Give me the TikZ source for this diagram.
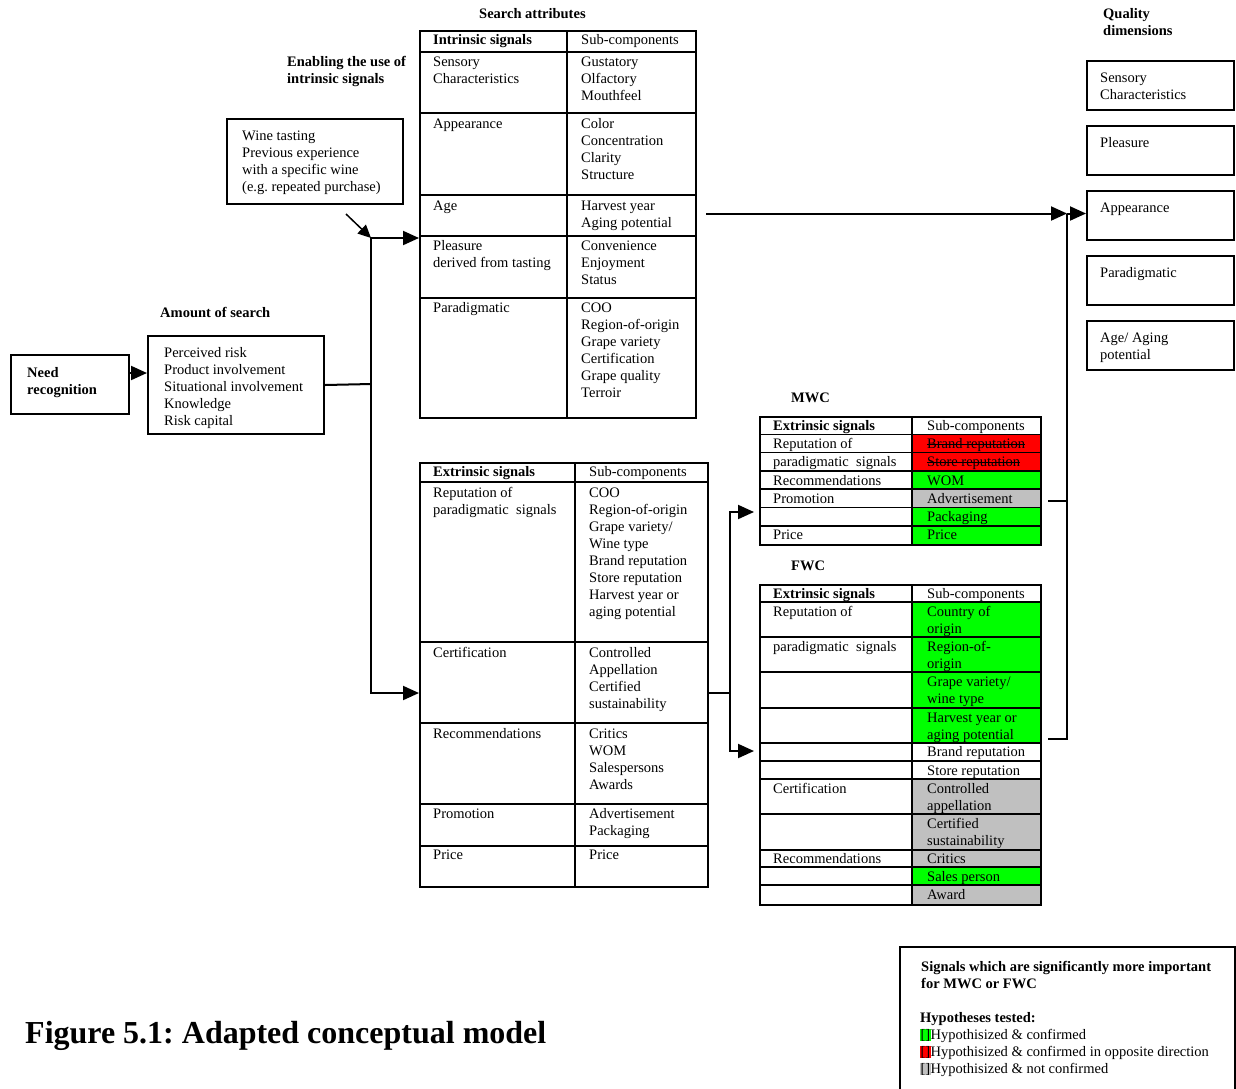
\documentclass[tikz,border=0pt]{standalone}
\usepackage{fontspec}
\setmainfont{Liberation Serif}
\usetikzlibrary{arrows.meta}
\frenchspacing

\newcommand\fnt{\fontsize{14.5}{17}\selectfont}
\definecolor{okgreen}{RGB}{0,255,0}
\definecolor{oppred}{RGB}{255,0,0}
\definecolor{notgray}{RGB}{192,192,192}

% text block whose first line is centred at (x,y)
\newcommand\cell[4]{\node[txt] (#1) at (#2,#3-7) {\strut #4};}
% strike a line through a one-line text node
\newcommand\strikeout[1]{\draw[line width=0.8pt] (#1.west) -- (#1.east);}
% coloured marker used in the legend
\newcommand\mk[1]{{\fboxsep=0.4pt\colorbox{#1}{[]}}}

\tikzset{
  txt/.style={anchor=north west, inner sep=0pt, align=left, font=\fnt},
  hd/.style={txt, font=\fnt\bfseries},
  box/.style={draw, line width=2pt, anchor=north west, inner sep=0pt},
  tbl/.style={draw, line width=1.6pt, anchor=north west, inner sep=0pt},
  rule/.style={line width=1.6pt},
  link/.style={line width=2pt},
  arr/.style={link, -{Triangle[length=16pt,width=14pt]}},
  thinarr/.style={line width=1.5pt, -{Triangle[length=13pt,width=12pt]}},
}

\begin{document}
\begin{tikzpicture}[x=1pt,y=-1pt]
\useasboundingbox (0,0) rectangle (1236,1088);
\clip (0,0) rectangle (1236,1088);

% ---------- headings ----------
\node[hd] (hSearch) at (479,13-7) {\strut Search attributes};
\node[hd] (hEnable) at (287,61-7) {\strut Enabling the use of\\intrinsic signals};
\node[hd] (hQual) at (1103,13-7) {\strut Quality\\dimensions};
\node[hd] (hAmount) at (160,312-7) {\strut Amount of search};
\node[hd] (hMWC) at (791,397-7) {\strut MWC};
\node[hd] (hFWC) at (791,565-7) {\strut FWC};

% ---------- left boxes ----------
\node[box, minimum width=118pt, minimum height=59pt] (need) at (10,354) {};
\node[hd] (needTxt) at (27,372-7) {\strut Need\\recognition};
\node[box, minimum width=176pt, minimum height=98pt] (amount) at (147,335) {};
\cell{amountTxt}{164}{352}{Perceived risk\\Product involvement\\Situational involvement\\Knowledge\\Risk capital}
\node[box, minimum width=176pt, minimum height=85pt] (wine) at (226,118) {};
\cell{wineTxt}{242}{135}{Wine tasting\\Previous experience\\with a specific wine\\(e.g. repeated purchase)}

% ---------- intrinsic signals table ----------
\node[tbl, minimum width=276pt, minimum height=387pt] (intr) at (419,30) {};
\draw[rule] (567,30) -- (567,417);
\foreach \yy in {52,113,195,236,298} \draw[rule] (419,\yy) -- (695,\yy);
\cell{iH1}{433}{39}{\textbf{Intrinsic signals}}
\cell{iH2}{581}{39}{Sub-components}
\cell{iL1}{433}{61}{Sensory\\Characteristics}
\cell{iR1}{581}{61}{Gustatory\\Olfactory\\Mouthfeel}
\cell{iL2}{433}{123}{Appearance}
\cell{iR2}{581}{123}{Color\\Concentration\\Clarity\\Structure}
\cell{iL3}{433}{205}{Age}
\cell{iR3}{581}{205}{Harvest year\\Aging potential}
\cell{iL4}{433}{245}{Pleasure\\derived from tasting}
\cell{iR4}{581}{245}{Convenience\\Enjoyment\\Status}
\cell{iL5}{433}{307}{Paradigmatic}
\cell{iR5}{581}{307}{COO\\Region-of-origin\\Grape variety\\Certification\\Grape quality\\Terroir}

% ---------- extrinsic signals table ----------
\node[tbl, minimum width=288pt, minimum height=424pt] (extr) at (419,462) {};
\draw[rule] (575,462) -- (575,886);
\foreach \yy in {482,642,723,804,846} \draw[rule] (419,\yy) -- (707,\yy);
\cell{eH1}{433}{471}{\textbf{Extrinsic signals}}
\cell{eH2}{589}{471}{Sub-components}
\cell{eL1}{433}{492}{Reputation of\\paradigmatic~ signals}
\cell{eR1}{589}{492}{COO\\Region-of-origin\\Grape variety/\\Wine type\\Brand reputation\\Store reputation\\Harvest year or\\aging potential}
\cell{eL2}{433}{652}{Certification}
\cell{eR2}{589}{652}{Controlled\\Appellation\\Certified\\sustainability}
\cell{eL3}{433}{733}{Recommendations}
\cell{eR3}{589}{733}{Critics\\WOM\\Salespersons\\Awards}
\cell{eL4}{433}{813}{Promotion}
\cell{eR4}{589}{813}{Advertisement\\Packaging}
\cell{eL5}{433}{854}{Price}
\cell{eR5}{589}{854}{Price}

% ---------- MWC table ----------
\fill[oppred] (912,434.3) rectangle (1040,470.9);
\fill[okgreen] (912,470.9) rectangle (1040,489.1);
\fill[notgray] (912,489.1) rectangle (1040,507.4);
\fill[okgreen] (912,507.4) rectangle (1040,544);
\node[tbl, minimum width=281pt, minimum height=128pt] (mwc) at (759,416) {};
\draw[rule] (912,416) -- (912,544);
\foreach \yy in {434.3,452.6,470.9,489.1,507.4,525.7} \draw[rule] (759,\yy) -- (1040,\yy);
\cell{mH1}{773}{425}{\textbf{Extrinsic signals}}
\cell{mH2}{927}{425}{Sub-components}
\cell{mL1}{773}{443}{Reputation of}
\cell{mR1}{927}{443}{Brand reputation}
\cell{mL2}{773}{461}{paradigmatic~ signals}
\cell{mR2}{927}{461}{Store reputation}
\strikeout{mR1}
\strikeout{mR2}
\cell{mL3}{773}{480}{Recommendations}
\cell{mR3}{927}{480}{WOM}
\cell{mL4}{773}{498}{Promotion}
\cell{mR4}{927}{498}{Advertisement}
\cell{mR5}{927}{516}{Packaging}
\cell{mL6}{773}{534}{Price}
\cell{mR6}{927}{534}{Price}

% ---------- FWC table ----------
\fill[okgreen] (912,602) rectangle (1040,743);
\fill[notgray] (912,779) rectangle (1040,867);
\fill[okgreen] (912,867) rectangle (1040,885);
\fill[notgray] (912,885) rectangle (1040,904);
\node[tbl, minimum width=281pt, minimum height=320pt] (fwc) at (759,584) {};
\draw[rule] (912,584) -- (912,904);
\foreach \yy in {602,637,672,708,743,761,779,814,850,867,885} \draw[rule] (759,\yy) -- (1040,\yy);
\cell{fH1}{773}{593}{\textbf{Extrinsic signals}}
\cell{fH2}{927}{593}{Sub-components}
\cell{fL1}{773}{611}{Reputation of}
\cell{fR1}{927}{611}{Country of\\origin}
\cell{fL2}{773}{646}{paradigmatic~ signals}
\cell{fR2}{927}{646}{Region-of-\\origin}
\cell{fR3}{927}{681}{Grape variety/\\wine type}
\cell{fR4}{927}{717}{Harvest year or\\aging potential}
\cell{fR5}{927}{751}{Brand reputation}
\cell{fR6}{927}{770}{Store reputation}
\cell{fL7}{773}{788}{Certification}
\cell{fR7}{927}{788}{Controlled\\appellation}
\cell{fR8}{927}{823}{Certified\\sustainability}
\cell{fL9}{773}{858}{Recommendations}
\cell{fR9}{927}{858}{Critics}
\cell{fR10}{927}{876}{Sales person}
\cell{fR11}{927}{894}{Award}

% ---------- quality dimensions ----------
\node[box, minimum width=147pt, minimum height=49pt] (q1) at (1086,60) {};
\node[box, minimum width=147pt, minimum height=49pt] (q2) at (1086,125) {};
\node[box, minimum width=147pt, minimum height=49pt] (q3) at (1086,190) {};
\node[box, minimum width=147pt, minimum height=49pt] (q4) at (1086,255) {};
\node[box, minimum width=147pt, minimum height=49pt] (q5) at (1086,320) {};
\cell{q1Txt}{1100}{77}{Sensory\\Characteristics}
\cell{q2Txt}{1100}{142}{Pleasure}
\cell{q3Txt}{1100}{207}{Appearance}
\cell{q4Txt}{1100}{272}{Paradigmatic}
\cell{q5Txt}{1100}{337}{Age/ Aging\\potential}

% ---------- connector points ----------
\coordinate (yNeed) at (0,373);
\coordinate (busL) at (371,384);
\coordinate (busLtop) at (371,238);
\coordinate (busLbot) at (371,693);
\coordinate (wineArr) at (346,214);
\coordinate (ageOut) at (706,213.5);
\coordinate (busRtop) at (1067,213.5);
\coordinate (mwcOut) at (1048,501);
\coordinate (fwcOut) at (1048,739);
\coordinate (midY) at (730,693);
\coordinate (mwcIn) at (754,512);
\coordinate (fwcIn) at (754,751);

% ---------- connectors ----------
\draw[arr] (need.east |- yNeed) -- (amount.west |- yNeed);
\draw[link] (amount.east) -- (busL);
\draw[arr] (busL) -- (busLtop) -- (intr.west |- busLtop);
\draw[arr] (busL) -- (busLbot) -- (extr.west |- busLbot);
\draw[thinarr] (wineArr) -- (busLtop);
\draw[arr] (ageOut) -- (busRtop);
\draw[arr] (busRtop) -- (q3.west |- busRtop);
\draw[link] (fwcOut) -| (busRtop);
\draw[link] (mwcOut) -- (mwcOut -| busRtop);
\draw[link] (extr.east |- midY) -- (midY);
\draw[arr] (midY) |- (mwcIn);
\draw[arr] (midY) |- (fwcIn);

% ---------- legend ----------
\draw[line width=1.6pt] (900,1100) -- (900,947) -- (1235,947) -- (1235,1100);
\node[txt, font=\fnt\bfseries] (legHead) at (921,966-7) {\strut Signals which are significantly more important\\for MWC or FWC};
\node[txt] (legBody) at (920,1017-7) {\strut\textbf{Hypotheses tested:}\\\mk{okgreen}Hypothisized \& confirmed\\\mk{oppred}Hypothisized \& confirmed in opposite direction\\\mk{notgray}Hypothisized \& not confirmed};

% ---------- caption ----------
\node[anchor=base west, inner sep=0pt, font=\fontsize{32}{38}\selectfont\bfseries] (caption) at (25,1043) {Figure 5.1: Adapted conceptual model};
\end{tikzpicture}
\end{document}
